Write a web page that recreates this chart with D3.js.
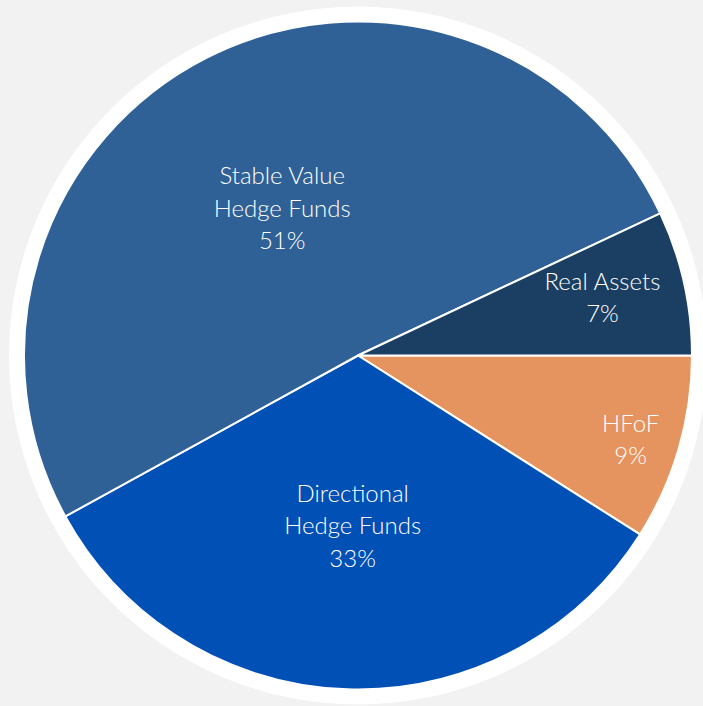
<!DOCTYPE html>
<html>
<head>
<meta charset="utf-8">
<script src="https://cdn.jsdelivr.net/npm/d3@7"></script>
<style>
  html, body { margin: 0; padding: 0; background: #f2f2f2; }
  svg { display: block; }
  .slice-label { fill: #ffffff; font-family: Lato, "Open Sans", sans-serif; font-weight: 300; font-size: 24px; }
</style>
</head>
<body>
<svg id="chart" width="703" height="706"></svg>
<script>
// Allocation by strategy (percent of portfolio)
const categories = ["HFoF", "Directional Hedge Funds", "Stable Value Hedge Funds", "Real Assets"];
const values = [9, 33, 51, 7];
const labelLines = [["HFoF"], ["Directional", "Hedge Funds"], ["Stable Value", "Hedge Funds"], ["Real Assets"]];
const colors = ["#e5945f", "#0050b5", "#2f6196", "#1b3f63"];

const width = 703, height = 706;
const cx = 358, cy = 355.5;
const radius = 334;
const frameRadius = 349;

// Label placement per slice: distance from the centre (share of radius) and a vertical nudge
const labelPlacement = {
  "HFoF": { dist: 0.85, nudge: 5 },
  "Directional Hedge Funds": { dist: 0.51, nudge: 0 },
  "Stable Value Hedge Funds": { dist: 0.5, nudge: 1.5 },
  "Real Assets": { dist: 0.75, nudge: -3 }
};

const svg = d3.select("#chart");
svg.append("rect").attr("width", width).attr("height", height).attr("fill", "#f2f2f2");

const g = svg.append("g").attr("transform", `translate(${cx},${cy})`);

// White disc behind the pie
g.append("circle").attr("r", frameRadius).attr("fill", "#ffffff");

const data = categories.map((c, i) => ({ name: c, value: values[i], lines: labelLines[i], color: colors[i] }));

const pie = d3.pie()
  .value(d => d.value)
  .sort(null)
  .startAngle(Math.PI / 2)
  .endAngle(Math.PI / 2 + 2 * Math.PI);

const arc = d3.arc().innerRadius(0).outerRadius(radius);
const arcs = pie(data);

g.selectAll("path.slice")
  .data(arcs)
  .join("path")
  .attr("class", "slice")
  .attr("d", arc)
  .attr("fill", d => d.data.color)
  .attr("stroke", "#ffffff")
  .attr("stroke-width", 2)
  .attr("stroke-linejoin", "round");

const lineHeight = 32.5;
const labels = g.selectAll("text.slice-label")
  .data(arcs)
  .join("text")
  .attr("class", "slice-label")
  .attr("text-anchor", "middle")
  .attr("transform", d => {
    const p = labelPlacement[d.data.name];
    const r = radius * p.dist;
    const [x, y] = d3.arc().innerRadius(r).outerRadius(r).centroid(d);
    return `translate(${x},${y + p.nudge})`;
  });

labels.each(function(d) {
  const lines = d.data.lines.concat([d.data.value + "%"]);
  const t = d3.select(this);
  const offset = -(lines.length - 1) / 2 * lineHeight;
  lines.forEach((ln, i) => {
    t.append("tspan")
      .attr("x", 0)
      .attr("y", offset + i * lineHeight)
      .attr("dy", "0.35em")
      .text(ln);
  });
});
</script>
</body>
</html>
